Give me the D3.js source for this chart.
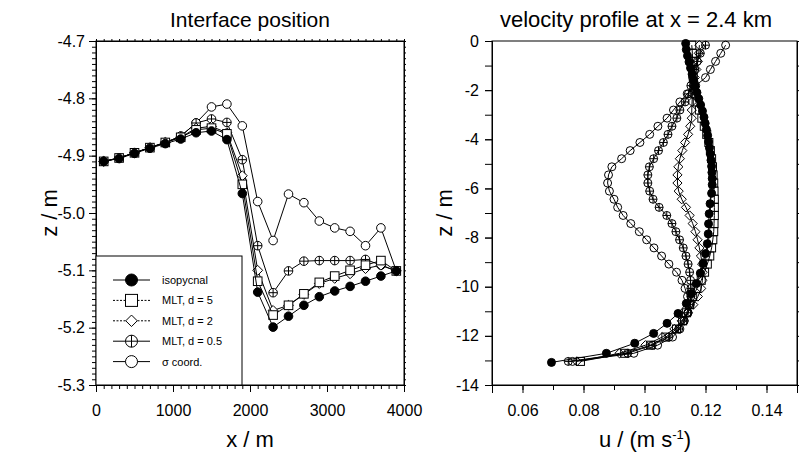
<!DOCTYPE html>
<html>
<head>
<meta charset="utf-8">
<script src="https://cdn.jsdelivr.net/npm/d3@7"></script>
<style>
body { margin: 0; background: #fff; }
text { font-family: "Liberation Sans", Arial, sans-serif; fill: #000; }
</style>
</head>
<body>
<svg id="chart" width="806" height="454"></svg>
<script>
// ---- left panel: interface position ----
const xPos = [100, 300, 500, 700, 900, 1100, 1300, 1500, 1700, 1900,
              2100, 2300, 2500, 2700, 2900, 3100, 3300, 3500, 3700, 3900];
const zIsoLeft = [-4.910, -4.905, -4.896, -4.887, -4.879, -4.871, -4.860, -4.857, -4.872, -4.966,
                  -5.138, -5.199, -5.180, -5.161, -5.146, -5.136, -5.128, -5.119, -5.110, -5.101];
const zMlt5Left = [-4.910, -4.904, -4.895, -4.886, -4.877, -4.868, -4.855, -4.852, -4.862, -4.950,
                   -5.119, -5.178, -5.161, -5.141, -5.121, -5.110, -5.100, -5.091, -5.083, -5.101];
const zMlt2Left = [-4.910, -4.904, -4.895, -4.886, -4.877, -4.868, -4.852, -4.849, -4.860, -4.935,
                   -5.100, -5.170, -5.161, -5.142, -5.123, -5.114, -5.106, -5.097, -5.091, -5.101];
const zMlt05Left = [-4.910, -4.904, -4.895, -4.886, -4.877, -4.866, -4.843, -4.836, -4.842, -4.907,
                    -5.057, -5.139, -5.101, -5.084, -5.083, -5.083, -5.083, -5.081, -5.091, -5.101];
const zSigmaLeft = [-4.910, -4.904, -4.895, -4.886, -4.877, -4.866, -4.843, -4.815, -4.810, -4.848,
                    -4.980, -5.048, -4.967, -4.982, -5.014, -5.026, -5.032, -5.057, -5.026, -5.101];

// ---- right panel: velocity profile ----
const levelZ = [-0.17, -0.5, -0.83, -1.16, -1.49, -1.82, -2.15, -2.48, -2.81, -3.14,
                -3.47, -3.8, -4.13, -4.46, -4.79, -5.12, -5.45, -5.78, -6.11, -6.44,
                -6.77, -7.1, -7.43, -7.76, -8.09, -8.42, -8.75, -9.08, -9.41, -9.74,
                -10.07, -10.4, -10.73, -11.06, -11.39, -11.72, -12.05, -12.38, -12.71, -13.04];
const uSigma = [0.1266, 0.1250, 0.1233, 0.1216, 0.1200, 0.1168, 0.1140, 0.1116, 0.1095, 0.1074,
                0.1044, 0.1017, 0.0985, 0.0953, 0.0925, 0.0893, 0.0882, 0.0879, 0.0885, 0.0900,
                0.0912, 0.0930, 0.0955, 0.0983, 0.1007, 0.1031, 0.1056, 0.1080, 0.1105, 0.1123,
                0.1133, 0.1141, 0.1145, 0.1142, 0.1130, 0.1116, 0.1092, 0.1043, 0.0965, 0.0764];
const uMlt05 = [0.1200, 0.1183, 0.1173, 0.1165, 0.1158, 0.1152, 0.1144, 0.1133, 0.1116, 0.1106,
                0.1090, 0.1077, 0.1062, 0.1046, 0.1030, 0.1016, 0.1011, 0.1011, 0.1017, 0.1028,
                0.1048, 0.1073, 0.1090, 0.1103, 0.1115, 0.1127, 0.1136, 0.1143, 0.1148, 0.1151,
                0.1152, 0.1152, 0.1150, 0.1143, 0.1130, 0.1112, 0.1080, 0.1025, 0.0945, 0.0750];
const uMlt2 = [0.1180, 0.1178, 0.1175, 0.1170, 0.1165, 0.1160, 0.1157, 0.1156, 0.1155, 0.1155,
               0.1150, 0.1143, 0.1133, 0.1124, 0.1116, 0.1111, 0.1108, 0.1108, 0.1112, 0.1122,
               0.1136, 0.1148, 0.1158, 0.1167, 0.1174, 0.1180, 0.1185, 0.1189, 0.1191, 0.1190,
               0.1186, 0.1175, 0.1160, 0.1142, 0.1122, 0.1098, 0.1058, 0.1003, 0.0918, 0.0778];
const uMlt5 = [0.1155, 0.1157, 0.1158, 0.1159, 0.1160, 0.1162, 0.1166, 0.1173, 0.1180, 0.1188,
               0.1196, 0.1204, 0.1211, 0.1216, 0.1220, 0.1223, 0.1225, 0.1227, 0.1228, 0.1229,
               0.1229, 0.1229, 0.1228, 0.1227, 0.1224, 0.1220, 0.1214, 0.1206, 0.1197, 0.1186,
               0.1172, 0.1158, 0.1148, 0.1138, 0.1125, 0.1105, 0.1070, 0.1020, 0.0935, 0.0790];
const isoZ = [-0.1, -0.35, -0.6, -0.85, -1.1, -1.35, -1.6, -1.85, -2.1, -2.35,
              -2.6, -2.85, -3.1, -3.35, -3.6, -3.85, -4.1, -4.35, -4.6, -4.85,
              -5.1, -5.35, -5.6, -5.85, -6.2, -6.62, -7.03, -7.44, -7.85, -8.25,
              -8.65, -9.05, -9.45, -9.87, -10.28, -10.68, -11.09, -11.49, -11.9, -12.3,
              -12.71, -13.08];
const uIso = [0.1135, 0.1137, 0.1141, 0.1146, 0.1151, 0.1156, 0.1161, 0.1166, 0.1172, 0.1178,
              0.1184, 0.1190, 0.1195, 0.1199, 0.1203, 0.1207, 0.1210, 0.1213, 0.1216, 0.1218,
              0.1220, 0.1221, 0.1222, 0.1222, 0.1220, 0.1215, 0.1212, 0.1210, 0.1209, 0.1206,
              0.1200, 0.1192, 0.1183, 0.1170, 0.1154, 0.1137, 0.1110, 0.1074, 0.1030, 0.0968,
              0.0875, 0.0695];

const legendLabels = ["isopycnal", "MLT, d = 5", "MLT, d = 2", "MLT, d = 0.5", "\u03C3 coord."];
const markerTypes = ["filled", "square", "diamond", "crossed", "circle"];
const xTicksLeft = [0, 1000, 2000, 3000, 4000];
const yTicksLeft = [-5.3, -5.2, -5.1, -5.0, -4.9, -4.8, -4.7];
const xTicksRight = [0.06, 0.08, 0.10, 0.12, 0.14];
const yTicksRight = [-14, -12, -10, -8, -6, -4, -2, 0];

const svg = d3.select("#chart");

// dibuja un marcador
function marker(g, type, x, y, s, fill) {
    if (type === "filled") {
        g.append("circle").attr("cx", x).attr("cy", y).attr("r", s)
            .attr("fill", "#000").attr("stroke", "#000");
    } else if (type === "square") {
        g.append("rect").attr("x", x - s).attr("y", y - s)
            .attr("width", 2 * s).attr("height", 2 * s)
            .attr("fill", fill).attr("stroke", "#000");
    } else if (type === "diamond") {
        const d = s * 1.15;
        g.append("path").attr("d", `M${x},${y - d}L${x + d},${y}L${x},${y + d}L${x - d},${y}Z`)
            .attr("fill", fill).attr("stroke", "#000");
    } else if (type === "crossed") {
        g.append("circle").attr("cx", x).attr("cy", y).attr("r", s)
            .attr("fill", fill).attr("stroke", "#000");
        g.append("path").attr("d", `M${x - s},${y}H${x + s}M${x},${y - s}V${y + s}`)
            .attr("stroke", "#000");
    } else {
        g.append("circle").attr("cx", x).attr("cy", y).attr("r", s)
            .attr("fill", fill).attr("stroke", "#000");
    }
}

function drawSeries(g, pts, type, s, fill) {
    g.append("path")
        .datum(pts)
        .attr("fill", "none")
        .attr("stroke", "#000")
        .attr("stroke-width", 1)
        .attr("d", d3.line().x(d => d[0]).y(d => d[1]));
    pts.forEach(p => marker(g, type, p[0], p[1], s, fill));
}

const minus = s => s.replace("\u2212", "-");

// ================= LEFT PANEL =================
const xL = d3.scaleLinear().domain([0, 4000]).range([96, 404]);
const yL = d3.scaleLinear().domain([-5.3, -4.7]).range([385, 41]);

const gL = svg.append("g");
gL.append("rect").attr("x", 96).attr("y", 41).attr("width", 308).attr("height", 344)
    .attr("fill", "none").attr("stroke", "#000");

gL.append("g").attr("transform", "translate(96,0)")
    .call(d3.axisLeft(yL).tickValues(d3.range(-5.3, -4.695, 0.01)).tickSize(4).tickFormat(""));
gL.append("g").attr("transform", "translate(96,0)")
    .call(d3.axisLeft(yL).tickValues(yTicksLeft).tickSize(7).tickPadding(4)
        .tickFormat(d => minus(d3.format(".1f")(d))));
gL.append("g").attr("transform", "translate(404,0)")
    .call(d3.axisRight(yL).tickValues(d3.range(-5.3, -4.695, 0.01)).tickSize(2).tickFormat(""));
gL.append("g").attr("transform", "translate(0,385)")
    .call(d3.axisBottom(xL).tickValues(d3.range(0, 4001, 100)).tickSize(4).tickFormat(""));
gL.append("g").attr("transform", "translate(0,385)")
    .call(d3.axisBottom(xL).tickValues(xTicksLeft).tickSize(7).tickPadding(13).tickFormat(d3.format("d")));
gL.append("g").attr("transform", "translate(0,41)")
    .call(d3.axisTop(xL).tickValues(d3.range(0, 4001, 100)).tickSize(2).tickFormat(""));

const leftSeries = [zIsoLeft, zMlt5Left, zMlt2Left, zMlt05Left, zSigmaLeft];
for (let i = leftSeries.length - 1; i >= 0; i--) {
    const pts = xPos.map((x, j) => [xL(x), yL(leftSeries[i][j])]);
    drawSeries(gL, pts, markerTypes[i], 4.3, "#fff");
}

// leyenda
const lg = gL.append("g");
lg.append("rect").attr("x", 96).attr("y", 256).attr("width", 146).attr("height", 129)
    .attr("fill", "#fff").attr("stroke", "#000");
legendLabels.forEach((lab, i) => {
    const yy = 280 + i * 20.4;
    lg.append("line").attr("x1", 113).attr("x2", 150).attr("y1", yy).attr("y2", yy)
        .attr("stroke", "#000").attr("stroke-width", 1)
        .attr("stroke-dasharray", (i === 1 || i === 2) ? "2,1.5" : null);
    marker(lg, markerTypes[i], 131.5, yy, i === 2 ? 5 : 6, "#fff");
    lg.append("text").attr("x", 162).attr("y", yy + 4)
        .style("font-size", "11px").text(lab);
});

// ================= RIGHT PANEL =================
const xR = d3.scaleLinear().domain([0.05, 0.15]).range([492, 797]);
const yR = d3.scaleLinear().domain([-14, 0]).range([385, 41]);

const gR = svg.append("g");
gR.append("rect").attr("x", 492).attr("y", 41).attr("width", 305).attr("height", 344)
    .attr("fill", "none").attr("stroke", "#000");
gR.append("g").attr("transform", "translate(492,0)")
    .call(d3.axisLeft(yR).tickValues(d3.range(-14, 0.5, 1)).tickSize(7).tickFormat(""));
gR.append("g").attr("transform", "translate(492,0)")
    .call(d3.axisLeft(yR).tickValues(yTicksRight).tickSize(7).tickPadding(6)
        .tickFormat(d => minus(String(d))));
gR.append("g").attr("transform", "translate(797,0)")
    .call(d3.axisRight(yR).tickValues(d3.range(-14, 0.5, 1)).tickSize(2).tickFormat(""));
gR.append("g").attr("transform", "translate(0,385)")
    .call(d3.axisBottom(xR).tickValues(d3.range(0.05, 0.1505, 0.01)).tickSize(5).tickFormat(""));
gR.append("g").attr("transform", "translate(0,385)")
    .call(d3.axisBottom(xR).tickValues(xTicksRight).tickSize(8).tickPadding(12).tickFormat(d3.format(".2f")));

const rightSeries = [
    { z: isoZ, u: uIso },
    { z: levelZ, u: uMlt5 },
    { z: levelZ, u: uMlt2 },
    { z: levelZ, u: uMlt05 },
    { z: levelZ, u: uSigma }
];
for (let i = rightSeries.length - 1; i >= 0; i--) {
    const s = rightSeries[i];
    const pts = s.z.map((z, j) => [xR(s.u[j]), yR(z)]);
    drawSeries(gR, pts, markerTypes[i], 4, "none");
}

// estilo de ejes
svg.selectAll(".domain").attr("stroke", "#000");
svg.selectAll(".tick line").attr("stroke", "#000");
svg.selectAll(".tick text").style("font-size", "16px")
    .style("font-family", "'Liberation Sans', Arial, sans-serif");

// títulos y etiquetas
svg.append("text").attr("x", 250).attr("y", 27).attr("text-anchor", "middle")
    .style("font-size", "21px").text("Interface position");
svg.append("text").attr("x", 636).attr("y", 27).attr("text-anchor", "middle")
    .style("font-size", "22px").text("velocity profile at x = 2.4 km");
svg.append("text").attr("x", 250).attr("y", 447).attr("text-anchor", "middle")
    .style("font-size", "22px").text("x / m");
const ul = svg.append("text").attr("x", 645).attr("y", 447).attr("text-anchor", "middle")
    .style("font-size", "22px");
ul.append("tspan").text("u / (m s");
ul.append("tspan").attr("dy", -8).style("font-size", "13px").text("-1");
ul.append("tspan").attr("dy", 8).text(")");
svg.append("text").attr("transform", "translate(57,213) rotate(-90)").attr("text-anchor", "middle")
    .style("font-size", "22px").text("z / m");
svg.append("text").attr("transform", "translate(452,213) rotate(-90)").attr("text-anchor", "middle")
    .style("font-size", "22px").text("z / m");
</script>
</body>
</html>
